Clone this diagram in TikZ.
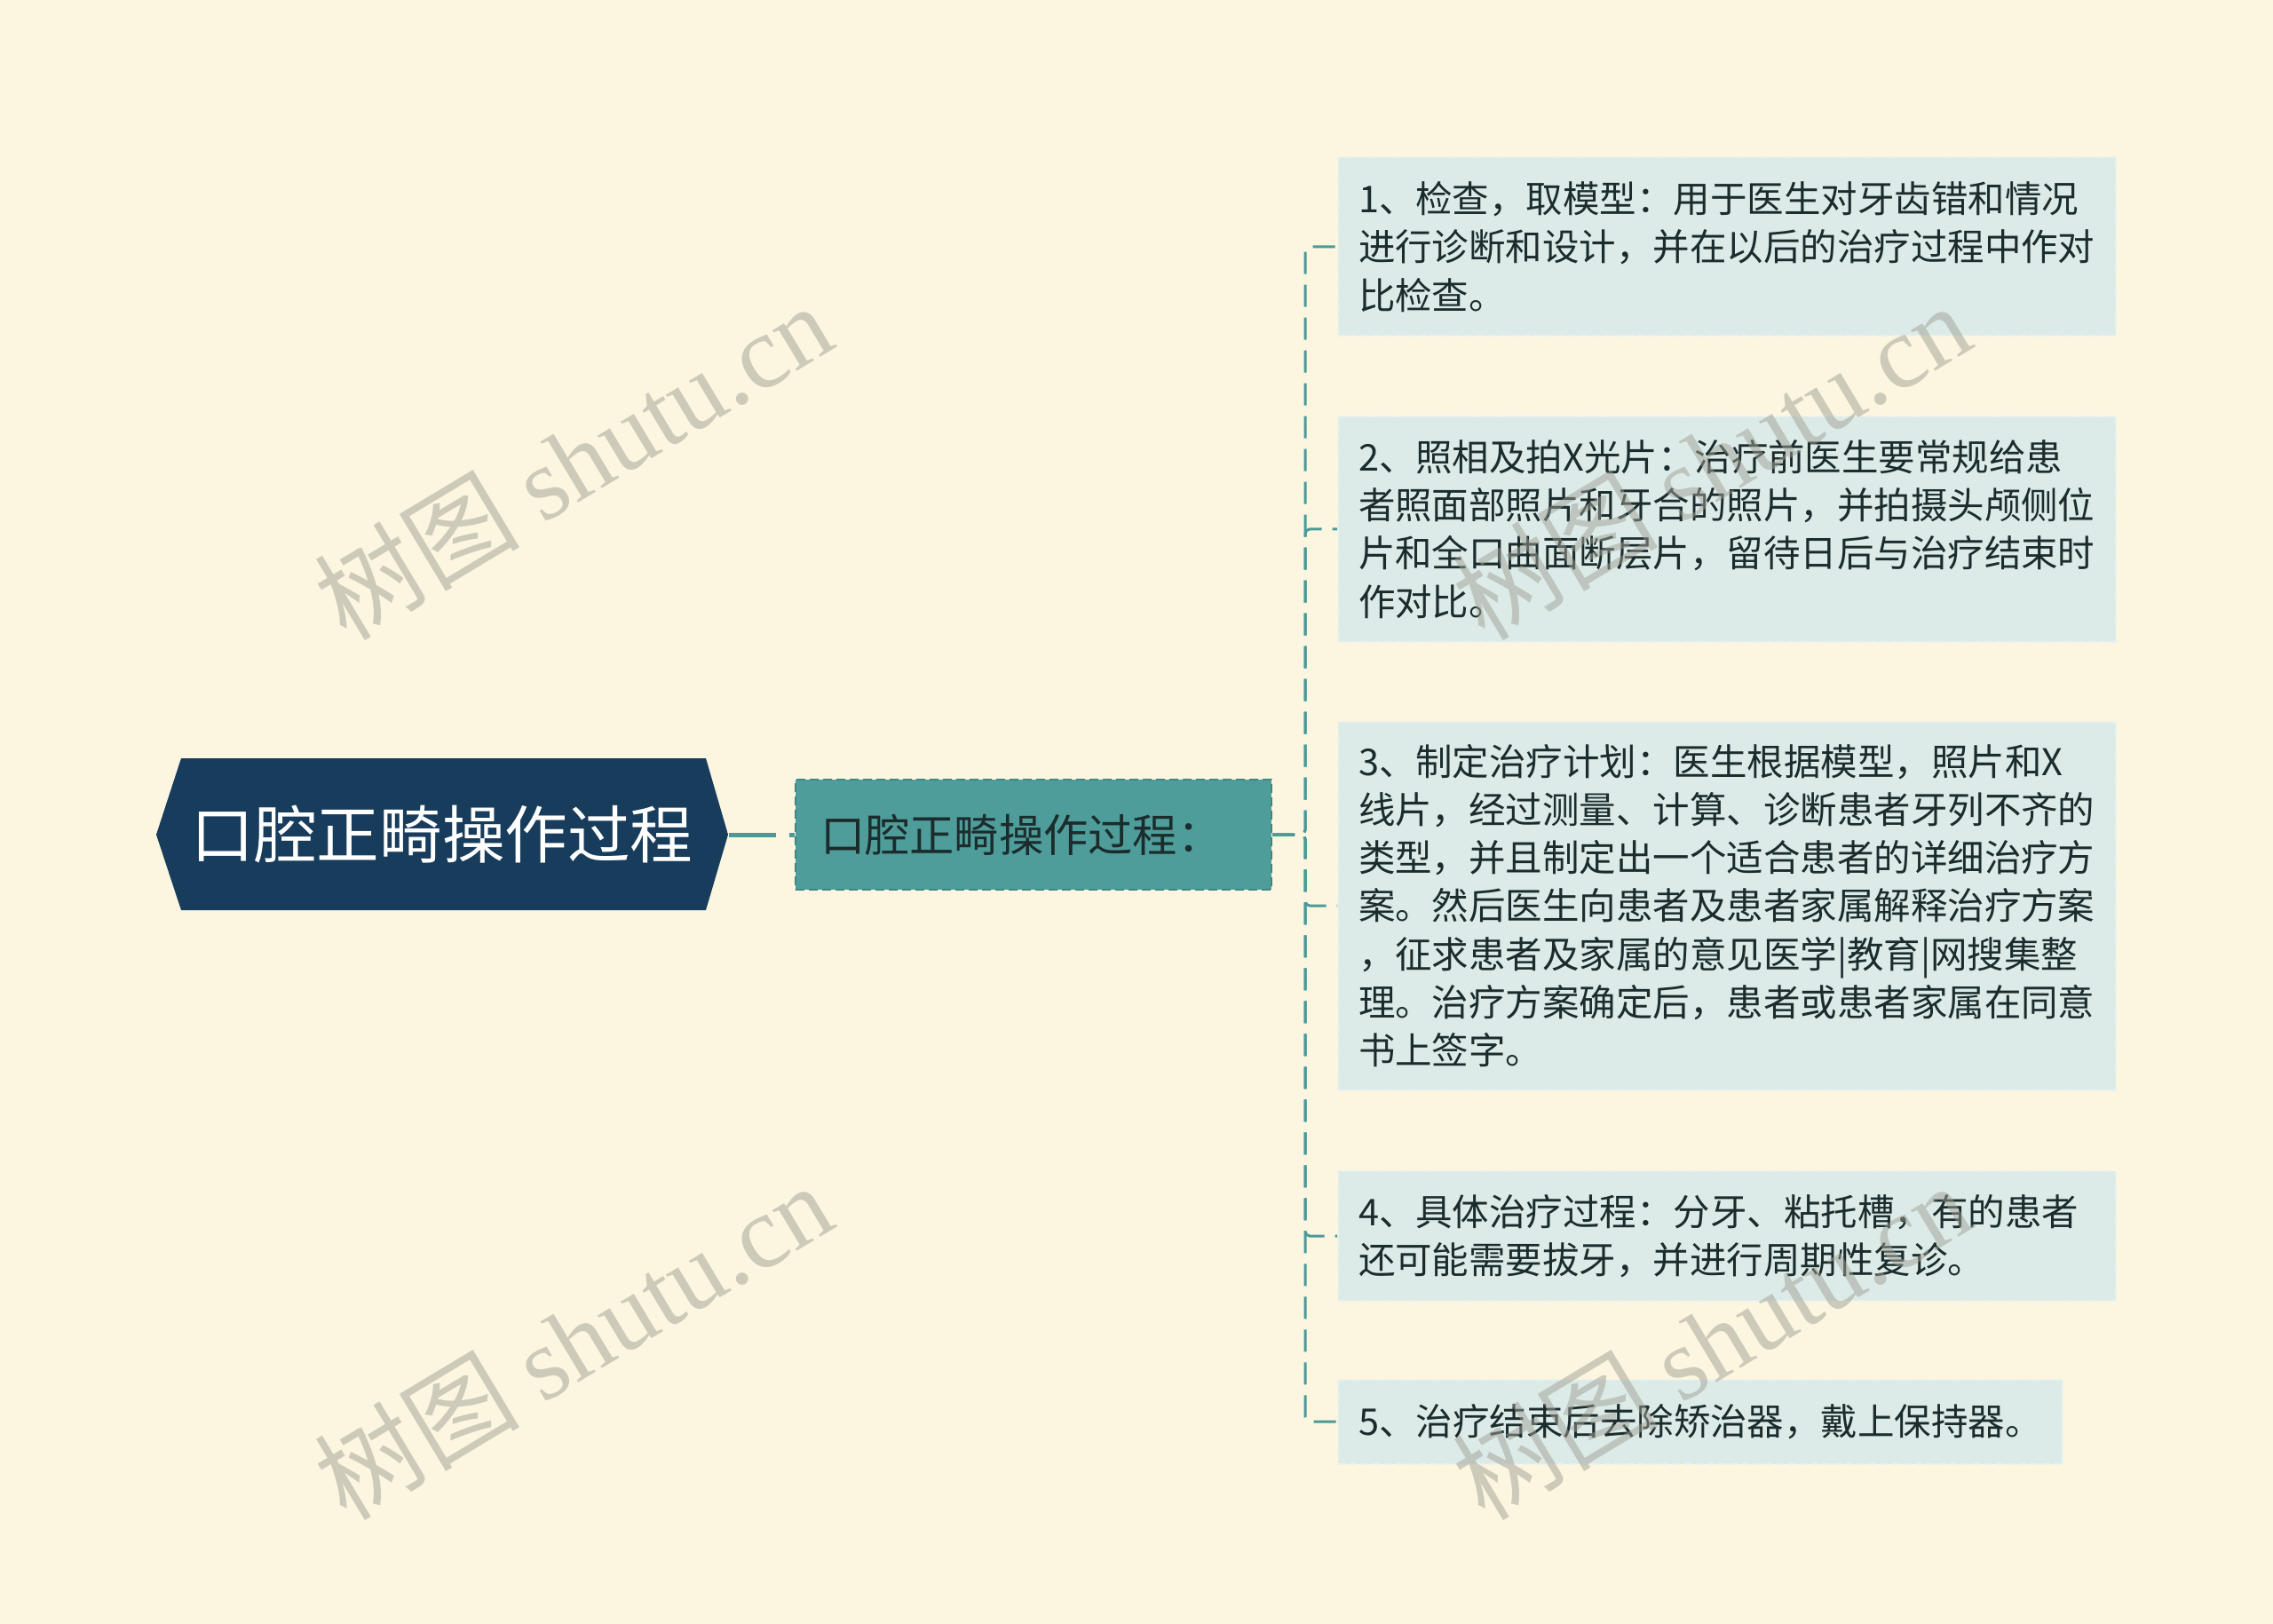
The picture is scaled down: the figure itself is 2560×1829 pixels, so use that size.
\documentclass[tikz,border=0pt]{standalone}
\usepackage{fontspec}
\setmainfont{Noto Sans CJK SC}
\newfontfamily\wmlatin{Liberation Serif}
\usepackage{tikz}
\usetikzlibrary{calc}
\definecolor{bgcream}{HTML}{FCF6E0}
\definecolor{rootnavy}{HTML}{173C5C}
\definecolor{midteal}{HTML}{4E9D9B}
\definecolor{midedge}{HTML}{3E8785}
\definecolor{itemfill}{HTML}{DCEBE8}
\definecolor{itemedge}{HTML}{EAF2EF}
\definecolor{inktext}{HTML}{1C2C2C}
\definecolor{linkteal}{HTML}{4A9A97}
\definecolor{wmgray}{HTML}{A0A096}
\tikzset{
  rootbox/.style={inner sep=0pt, minimum width=64.4mm, minimum height=17.1mm,
    text=white, font=\fontsize{20.1pt}{24pt}\selectfont},
  stagebox/.style={fill=midteal, draw=midedge, line width=0.2mm,
    dash pattern=on 1mm off 0.5mm, minimum width=53.6mm, minimum height=12.4mm,
    text width=48mm, align=left, inner sep=0pt, text=inktext,
    font=\fontsize{14.3pt}{17pt}\selectfont},
  itembox/.style={anchor=west, fill=itemfill, draw=itemedge, line width=0.2mm,
    dash pattern=on 0.8mm off 0.5mm, align=left, inner xsep=2.3mm, inner ysep=0pt,
    text=inktext, font=\fontsize{11.8pt}{15.4pt}\selectfont},
  widebox/.style={itembox, text width=83mm},
  link/.style={draw=linkteal, line width=0.5mm, dash pattern=on 5.3mm off 1.5mm},
  branch/.style={draw=linkteal, line width=0.3mm, dash pattern=on 2.5mm off 1.2mm,
    rounded corners=0.5mm},
  wmark/.style={text=wmgray, opacity=0.5, rotate=31,
    font=\fontsize{33pt}{40pt}\selectfont}
}
\begin{document}
\begin{tikzpicture}[x=0.1mm, y=-0.1mm]
  \useasboundingbox (0, 0) rectangle (2560, 1829);
  \fill[bgcream] (0, 0) rectangle (2560, 1829);

  % root hexagon
  \fill[rootnavy] (176, 940) -- (204, 854) -- (795, 854) -- (820, 940)
    -- (795, 1025) -- (204, 1025) -- cycle;
  \node[rootbox] at (498, 940) (root) {口腔正畸操作过程};

  \node[stagebox] at (1164, 940) (stage) {口腔正畸操作过程：};

  \node[widebox, minimum height=20.1mm] at (1506, 278) (item1)
    {1、检查，取模型：用于医生对牙齿错和情况\\进行诊断和设计，并在以后的治疗过程中作对\\比检查。};
  \node[widebox, minimum height=25.4mm] at (1506, 596) (item2)
    {2、照相及拍X光片：治疗前医生要常规给患\\者照面部照片和牙合的照片，并拍摄头颅侧位\\片和全口曲面断层片，留待日后与治疗结束时\\作对比。};
  \node[widebox, minimum height=41.5mm] at (1506, 1020) (item3)
    {3、制定治疗计划：医生根据模型，照片和X\\线片，经过测量、计算、诊断患者牙列不齐的\\类型，并且制定出一个适合患者的详细治疗方\\案。然后医生向患者及患者家属解释治疗方案\\，征求患者及家属的意见医学|教育|网搜集整\\理。治疗方案确定后，患者或患者家属在同意\\书上签字。};
  \node[widebox, minimum height=14.6mm] at (1506, 1392) (item4)
    {4、具体治疗过程：分牙、粘托槽，有的患者\\还可能需要拔牙，并进行周期性复诊。};
  \node[itembox, minimum width=81.6mm, minimum height=9.5mm] at (1506, 1601) (item5)
    {5、治疗结束后去除矫治器，戴上保持器。};

  % connexions
  \coordinate (trunk) at (1470, 940);
  \draw[link] (root.east) -- (stage.west);
  \foreach \k in {1,...,5}
    \draw[branch] (stage.east) -- (trunk) |- (item\k.west);

  % watermark
  \foreach \wx in {645, 1927}
    \foreach \wy in {519, 1510}
      \node[wmark] at (\wx, \wy) (wm) {树图 {\wmlatin shutu.cn}};
\end{tikzpicture}
\end{document}
